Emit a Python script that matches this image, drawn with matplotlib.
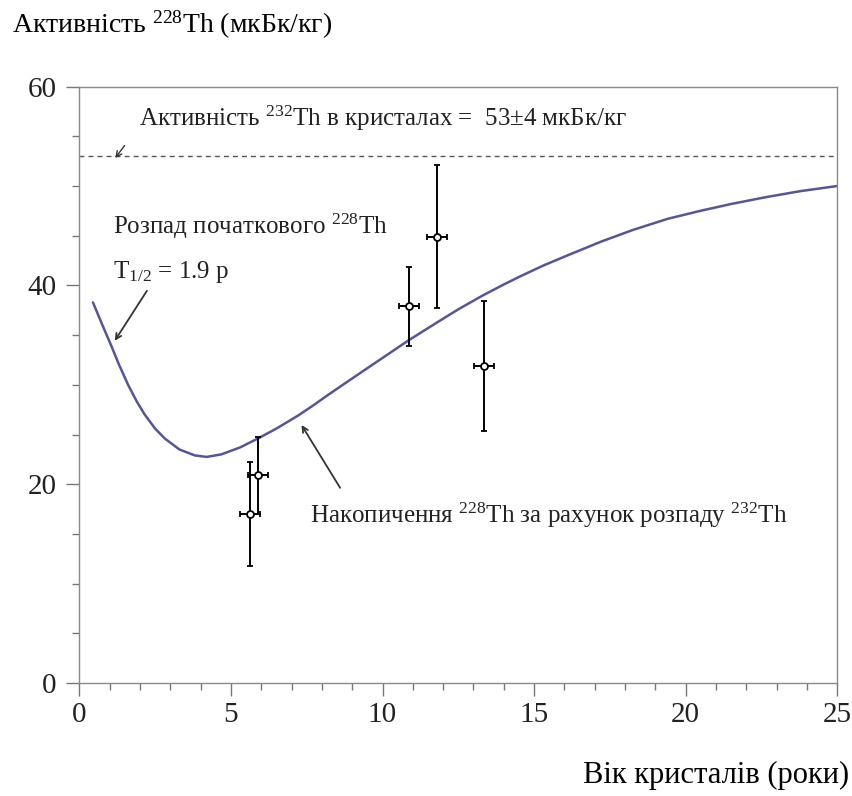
import matplotlib
matplotlib.use("Agg")
import matplotlib.pyplot as plt
from matplotlib.ticker import MultipleLocator

plt.rcParams['font.family'] = ['Liberation Serif', 'DejaVu Serif']
plt.rcParams['mathtext.fontset'] = 'custom'
plt.rcParams['mathtext.rm'] = 'Liberation Serif'
plt.rcParams['mathtext.it'] = 'Liberation Serif:italic'

# theoretical curve
curve_x = [0.45, 0.75, 1.06, 1.3, 1.61, 1.9, 2.16, 2.5, 2.82, 3.3, 3.81, 4.2,
           4.68, 5.3, 5.89, 6.5, 7.21, 7.7, 8.21, 8.93, 9.9, 10.87, 11.81,
           12.5, 13.31, 14.0, 14.53, 15.3, 16.08, 17.2, 18.27, 19.4, 20.47,
           21.5, 22.67, 23.8, 24.98]
curve_y = [38.3, 36.1, 33.9, 32.1, 30.0, 28.3, 27.0, 25.6, 24.6, 23.5, 22.9, 22.75,
           23.0, 23.7, 24.6, 25.6, 26.9, 27.9, 29.0, 30.5, 32.5, 34.5, 36.3,
           37.6, 39.0, 40.1, 40.9, 42.0, 43.0, 44.4, 45.6, 46.7, 47.5,
           48.2, 48.9, 49.5, 50.0]

# measured points
pts_x = [5.63, 5.90, 10.88, 11.81, 13.36]
pts_y = [17.0, 20.9, 37.9, 44.9, 31.9]
pts_yerr = [5.2, 3.9, 3.95, 7.2, 6.5]
pts_xerr = [0.33, 0.33, 0.33, 0.33, 0.33]

th232_level = 53

x_ticks = [0, 5, 10, 15, 20, 25]
y_ticks = [0, 20, 40, 60]

W, H = 853, 796
fig = plt.figure(figsize=(W / 100, H / 100), dpi=100)
ax = fig.add_axes([79.3 / W, 1 - 683 / H, (837.3 - 79.3) / W, (683 - 86.7) / H])

ax.set_xlim(0, 25)
ax.set_ylim(0, 60)

ax.plot(curve_x, curve_y, color='#55559a', lw=1.8, solid_capstyle='round',
        solid_joinstyle='round')
ax.plot([0, 25], [th232_level, th232_level], color='#555555', lw=1.0,
        dashes=(3.5, 3.0))

ax.errorbar(pts_x, pts_y, yerr=pts_yerr, xerr=pts_xerr, fmt='o', ms=5,
            mfc='white', mec='black', mew=1.3, ecolor='black', elinewidth=1.4,
            capsize=2.0, capthick=1.2, zorder=5)

for s in ax.spines.values():
    s.set_color('#8a8a8a')
    s.set_linewidth(1.0)

ax.set_xticks(x_ticks)
ax.set_yticks(y_ticks)
ax.xaxis.set_minor_locator(MultipleLocator(1))
ax.yaxis.set_minor_locator(MultipleLocator(5))
ax.tick_params(which='major', direction='out', length=9.5, width=1.0,
               color='#777777', labelsize=21, labelcolor='#222222')
ax.tick_params(which='minor', direction='out', length=5, width=1.0,
               color='#777777')
ax.tick_params(axis='x', which='major', pad=4)
ax.tick_params(axis='y', which='major', pad=7)

# axis titles
fig.text(12 / W, 1 - 25 / H, 'Активність $^{228}$Th (мкБк/кг)', fontsize=20,
         ha='left', va='center', color='#000000')
fig.text(849 / W, 1 - 775 / H, 'Вік кристалів (роки)', fontsize=22,
         ha='right', va='center', color='#000000')

# annotations
ax.text(1.97, 56.8, 'Активність $^{232}$Th в кристалах =  53±4 мкБк/кг',
        fontsize=18, ha='left', va='center', color='#222222')
ax.annotate('', xy=(1.13, 52.6), xytext=(1.55, 54.3),
            arrowprops=dict(arrowstyle='->', color='#333333', lw=1.0))

ax.text(1.11, 45.9, 'Розпад початкового $^{228}$Th', fontsize=18,
        ha='left', va='center', color='#222222')
ax.text(1.11, 41.4, 'T$_{1/2}$ = 1.9 р', fontsize=18,
        ha='left', va='center', color='#222222')
ax.annotate('', xy=(1.12, 34.2), xytext=(2.28, 39.7),
            arrowprops=dict(arrowstyle='->', color='#333333', lw=1.3))

ax.text(7.61, 16.9, 'Накопичення $^{228}$Th за рахунок розпаду $^{232}$Th',
        fontsize=18, ha='left', va='center', color='#222222')
ax.annotate('', xy=(7.28, 26.2), xytext=(8.65, 19.4),
            arrowprops=dict(arrowstyle='->', color='#333333', lw=1.3))

fig.savefig('out.png', dpi=100, facecolor='white')
